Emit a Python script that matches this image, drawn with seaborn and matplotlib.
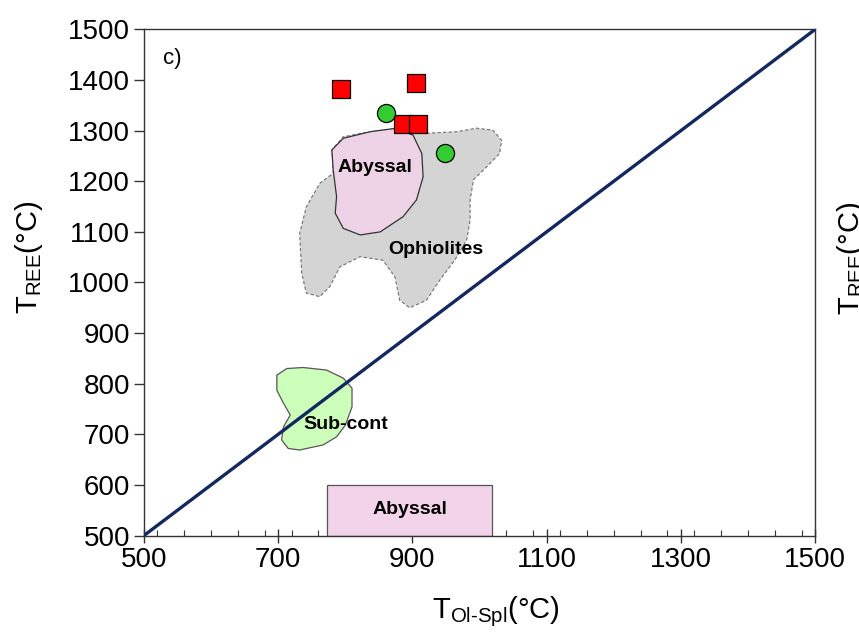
import numpy as np
import pandas as pd
import matplotlib
matplotlib.use("Agg")
import matplotlib.pyplot as plt
import seaborn as sns
from matplotlib.patches import Polygon, Rectangle
from matplotlib.ticker import MultipleLocator

# ---- data ----
sq_x = [793, 905, 886, 909]
sq_y = [1382, 1394, 1313, 1313]
ci_x = [861, 949]
ci_y = [1335, 1256]

ophiolite_x = [896, 921, 966, 996, 1020, 1033, 1030, 1011, 991, 986, 986, 981, 963, 941, 921,
               896, 881, 874, 856, 822, 792, 777, 762, 742, 735, 732, 742, 762, 782, 780, 797, 837, 877]
ophiolite_y = [1298, 1295, 1298, 1305, 1301, 1281, 1255, 1229, 1203, 1163, 1123, 1084, 1044, 1005, 965,
               950, 965, 1011, 1044, 1051, 1031, 992, 972, 979, 1018, 1097, 1150, 1196, 1216, 1262, 1288, 1298, 1305]

abyssal_x = [780, 797, 837, 877, 901, 914, 916, 906, 886, 852, 822, 797, 785, 787, 782]
abyssal_y = [1262, 1285, 1298, 1305, 1291, 1255, 1209, 1163, 1130, 1100, 1094, 1107, 1137, 1170, 1222]

subcont_x = [698, 713, 737, 772, 797, 810, 810, 800, 787, 767, 732, 715, 705, 708, 718, 708, 698]
subcont_y = [817, 830, 832, 827, 811, 791, 754, 718, 695, 679, 669, 672, 689, 715, 738, 761, 787]

box_x = [773, 1018]
box_y = [500, 600]

line_x = [500, 1500]
line_y = [500, 1500]

x_ticks = [500, 700, 900, 1100, 1300, 1500]
y_ticks = list(range(500, 1501, 100))

# ---- style ----
sns.set_style("white")
plt.rcParams["font.family"] = ["Liberation Sans", "DejaVu Sans"]
plt.rcParams["mathtext.fontset"] = "custom"
plt.rcParams["mathtext.rm"] = "Liberation Sans"
plt.rcParams["mathtext.it"] = "Liberation Sans:italic"
plt.rcParams["mathtext.bf"] = "Liberation Sans:bold"
plt.rcParams["text.color"] = "black"
plt.rcParams["axes.labelcolor"] = "black"
plt.rcParams["xtick.color"] = "black"
plt.rcParams["ytick.color"] = "black"

fig = plt.figure(figsize=(8.59, 6.36), dpi=100)
ax = fig.add_axes([144 / 859, 1 - 535.5 / 636, (815 - 144) / 859, (535.5 - 29.5) / 636])

# regions
ax.add_patch(Polygon(np.column_stack([ophiolite_x, ophiolite_y]), closed=True,
                     facecolor="#d4d4d4", edgecolor="#707070", lw=0.8, ls=(0, (3, 2)), zorder=1))
ax.add_patch(Polygon(np.column_stack([abyssal_x, abyssal_y]), closed=True,
                     facecolor="#f3d3ea", alpha=0.85, edgecolor="none", zorder=2))
ax.add_patch(Polygon(np.column_stack([abyssal_x, abyssal_y]), closed=True,
                     facecolor="none", edgecolor="#333333", lw=0.9, zorder=2))
ax.add_patch(Polygon(np.column_stack([subcont_x, subcont_y]), closed=True,
                     facecolor="#ccffba", edgecolor="#555555", lw=0.9, zorder=2))
ax.add_patch(Rectangle((box_x[0], box_y[0]), box_x[1] - box_x[0], box_y[1] - box_y[0],
                       facecolor="#f3d3ea", edgecolor="#555555", lw=0.9, zorder=2))

# 1:1 line
sns.lineplot(x=line_x, y=line_y, ax=ax, color="#14285f", lw=2.4, zorder=3)

# points
sns.scatterplot(x=sq_x, y=sq_y, ax=ax, marker="s", s=170, color="#ff0000",
                edgecolor="black", linewidth=0.9, zorder=5)
sns.scatterplot(x=ci_x, y=ci_y, ax=ax, marker="o", s=170, color="#33cc33",
                edgecolor="black", linewidth=0.9, zorder=5)

# labels
ax.text(844, 1228, "Abyssal", fontsize=14, fontweight="bold", ha="center", va="center", zorder=6)
ax.text(935, 1066, "Ophiolites", fontsize=14, fontweight="bold", ha="center", va="center", zorder=6)
ax.text(801, 720, "Sub-cont", fontsize=14, fontweight="bold", ha="center", va="center", zorder=6)
ax.text(896, 552, "Abyssal", fontsize=14, fontweight="bold", ha="center", va="center", zorder=6)
ax.text(528, 1443, "c)", fontsize=16, ha="left", va="center")

ax.set_xlim(500, 1500)
ax.set_ylim(500, 1500)
ax.set_xticks(x_ticks)
ax.set_yticks(y_ticks)
ax.xaxis.set_minor_locator(MultipleLocator(40))
ax.tick_params(axis="x", which="major", direction="inout", length=10, width=1, labelsize=20, pad=3, color="#333333")
ax.tick_params(axis="x", which="minor", direction="in", length=4, width=0.8, color="#333333")
ax.tick_params(axis="y", which="major", direction="out", length=7, width=1, labelsize=20, pad=3, color="#333333")
ax.tick_params(bottom=True, left=True, top=False, right=False)
ax.tick_params(axis="x", which="minor", bottom=True)
for s in ax.spines.values():
    s.set_visible(True)
    s.set_color("#333333")
    s.set_linewidth(1.0)

ax.set_xlabel(r"T$_{\mathregular{Ol\text{-}Spl}}$(°C)", fontsize=21)
ax.set_ylabel(r"T$_{\mathregular{REE}}$(°C)", fontsize=21)
ax.xaxis.set_label_coords(0.525, -0.117)
ax.yaxis.set_label_coords(-0.148, 0.55)

# neighbouring panel's clipped label
fig.text(851 / 859, 1 - 258 / 636, r"T$_{\mathregular{REE}}$(°C)", fontsize=21, rotation=90,
         ha="center", va="center")

fig.savefig("out.png", dpi=100)
